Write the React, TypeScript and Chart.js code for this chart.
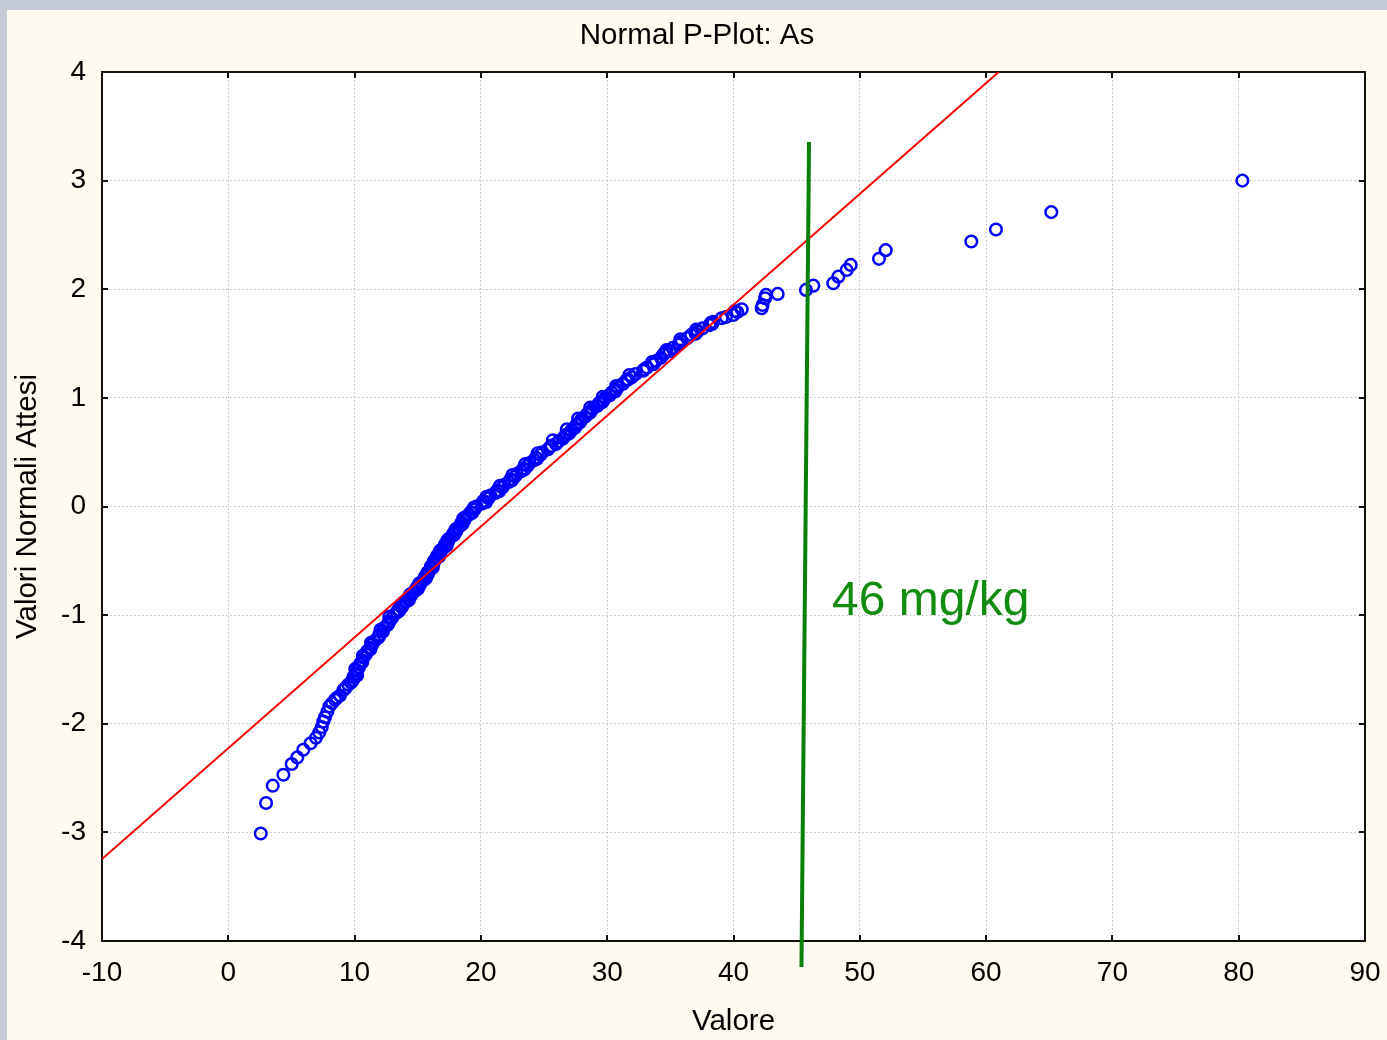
import React, { useEffect, useRef } from 'react';
import { Chart, registerables } from 'chart.js';

Chart.register(...registerables);

const FONT = '"Liberation Sans", Arial, Helvetica, sans-serif';

const chartTitle = 'Normal P-Plot: As';
const xAxisTitle = 'Valore';
const yAxisTitle = 'Valori Normali Attesi';

const xMin = -10;
const xMax = 90;
const xStep = 10;
const yMin = -4;
const yMax = 4;
const yStep = 1;

// [Valore, Valore normale atteso]
const observedPoints: [number, number][] = [
  [2.57, -3.01], [2.99, -2.73], [3.52, -2.57], [4.36, -2.47], [5.02, -2.37], [5.46, -2.31],
  [5.94, -2.24], [6.52, -2.18], [6.94, -2.13], [7.2, -2.08], [7.4, -2.03], [7.52, -1.98],
  [7.66, -1.94], [7.84, -1.89], [8.0, -1.84], [8.22, -1.81], [8.45, -1.78], [8.6, -1.76],
  [8.84, -1.74], [9.11, -1.69], [9.28, -1.67], [9.5, -1.64], [9.72, -1.62], [9.87, -1.6],
  [9.9, -1.57], [10.15, -1.54], [10.2, -1.51], [10.35, -1.48], [10.42, -1.45], [10.6, -1.42],
  [10.7, -1.39], [10.9, -1.36], [11.0, -1.33], [11.25, -1.3], [11.4, -1.27], [11.55, -1.24],
  [11.85, -1.21], [11.95, -1.18], [12.25, -1.15], [12.3, -1.12], [12.6, -1.09], [12.7, -1.06],
  [12.95, -1.03], [13.1, -1.0], [13.35, -0.975], [13.45, -0.95], [13.75, -0.925], [13.85, -0.9],
  [14.1, -0.875], [14.2, -0.85], [14.45, -0.825], [14.55, -0.8], [14.8, -0.775], [14.9, -0.75],
  [15.15, -0.725], [15.25, -0.7], [15.5, -0.675], [15.55, -0.65], [15.8, -0.625], [15.85, -0.6],
  [16.05, -0.575], [16.05, -0.55], [16.25, -0.525], [16.3, -0.5], [16.5, -0.475], [16.55, -0.45],
  [16.8, -0.425], [16.85, -0.4], [17.1, -0.375], [17.15, -0.35], [17.4, -0.325], [17.45, -0.3],
  [17.7, -0.275], [17.8, -0.25], [18.05, -0.225], [18.15, -0.2], [18.4, -0.175], [18.45, -0.15],
  [18.7, -0.125], [18.75, -0.1], [19.05, -0.075], [19.2, -0.05], [19.5, -0.025], [19.65, 0.0],
  [20.05, 0.025], [20.2, 0.05], [20.6, 0.075], [20.75, 0.1], [21.15, 0.125], [21.3, 0.15],
  [21.7, 0.175], [21.85, 0.2], [22.2, 0.225], [22.35, 0.25], [22.7, 0.275], [22.85, 0.3],
  [23.2, 0.325], [23.35, 0.35], [23.7, 0.375], [23.85, 0.4], [24.2, 0.425], [24.35, 0.45],
  [24.7, 0.475], [24.85, 0.5], [25.3, 0.525], [25.5, 0.55], [25.95, 0.575], [26.15, 0.6],
  [26.5, 0.625], [26.65, 0.65], [27.0, 0.675], [27.15, 0.7], [27.45, 0.725], [27.55, 0.75],
  [27.85, 0.775], [27.95, 0.8], [28.25, 0.825], [28.4, 0.85], [28.7, 0.875], [28.85, 0.9],
  [29.2, 0.925], [29.35, 0.95], [29.7, 0.975], [29.85, 1.0], [30.2, 1.025], [30.35, 1.05],
  [30.7, 1.075], [30.85, 1.1], [31.25, 1.13], [31.5, 1.16], [31.95, 1.19], [32.25, 1.22],
  [32.85, 1.25], [33.15, 1.28], [33.65, 1.31], [33.85, 1.34], [34.25, 1.37], [34.45, 1.4],
  [34.95, 1.43], [35.2, 1.46], [35.65, 1.49], [35.9, 1.52], [36.35, 1.55], [36.65, 1.58],
  [37.15, 1.61], [37.55, 1.64], [38.1, 1.67], [38.4, 1.7], [39.06, 1.733], [39.98, 1.763],
  [40.3, 1.79], [40.65, 1.816], [42.23, 1.825], [42.3, 1.855], [42.5, 1.917], [42.57, 1.948],
  [43.5, 1.957], [45.74, 1.994], [46.32, 2.033], [47.9, 2.055], [48.3, 2.116], [48.96, 2.178],
  [49.28, 2.224], [51.52, 2.28], [52.05, 2.36], [58.83, 2.44], [60.78, 2.55], [65.16, 2.71],
  [80.29, 3.0],
  [10.2, -1.555], [10.05, -1.495], [10.6, -1.435], [10.65, -1.375], [11.25, -1.315], [11.3, -1.255],
  [11.95, -1.195], [12.05, -1.135], [12.7, -1.075], [12.75, -1.015], [13.55, -0.96], [13.65, -0.91],
  [14.3, -0.86], [14.4, -0.81], [15.0, -0.76], [15.1, -0.71], [15.65, -0.66], [15.75, -0.61],
  [16.2, -0.56], [16.25, -0.51], [16.7, -0.46], [16.75, -0.41], [17.3, -0.36], [17.35, -0.31],
  [17.9, -0.26], [18.0, -0.21], [18.55, -0.16], [18.6, -0.11], [19.3, -0.06], [19.45, -0.01],
  [20.4, 0.04], [20.45, 0.09], [21.45, 0.14], [21.5, 0.19], [22.45, 0.24], [22.5, 0.29],
  [23.45, 0.34], [23.5, 0.39], [24.45, 0.44], [24.5, 0.49], [25.6, 0.56], [25.7, 0.61],
  [26.75, 0.66], [26.8, 0.71], [27.65, 0.76], [27.7, 0.81], [28.6, 0.86], [28.65, 0.91],
  [29.6, 0.96], [29.65, 1.01], [30.65, 1.06], [30.7, 1.11], [31.65, 1.17], [31.75, 1.21],
  [32.9, 1.26], [33.55, 1.33], [34.6, 1.42], [34.7, 1.44], [35.75, 1.5], [35.8, 1.54],
  [37.0, 1.59], [37.05, 1.63], [38.3, 1.68], [38.2, 1.69], [39.4, 1.745], [40.1, 1.8],
];

// normal reference line
const fitLineX = [-10, 61];
const fitLineY = [-3.245, 4.0];

// hand-drawn limit line (46 mg/kg)
const limitLineX = [45.98, 45.38];
const limitLineY = [3.356, -4.24];
const limitLabel = '46 mg/kg';
const limitLabelX = 47.8;
const limitLabelY = -1.0;

const decorPlugin = {
  id: 'decor',
  beforeDraw(chart: any) {
    const { ctx, chartArea } = chart;
    ctx.save();
    ctx.fillStyle = '#ffffff';
    ctx.fillRect(chartArea.left, chartArea.top, chartArea.right - chartArea.left, chartArea.bottom - chartArea.top);
    ctx.restore();
  },
  beforeDatasetsDraw(chart: any) {
    const { ctx, chartArea, scales } = chart;
    const { left, right, top, bottom } = chartArea;
    ctx.save();
    ctx.strokeStyle = '#111111';
    ctx.lineWidth = 2;
    ctx.strokeRect(left, top, right - left, bottom - top);
    const tl = 6;
    ctx.beginPath();
    scales.x.ticks.forEach((t: any) => {
      const px = Math.round(scales.x.getPixelForValue(t.value));
      ctx.moveTo(px, bottom);
      ctx.lineTo(px, bottom - tl);
      ctx.moveTo(px, top);
      ctx.lineTo(px, top + tl);
    });
    scales.y.ticks.forEach((t: any) => {
      const py = Math.round(scales.y.getPixelForValue(t.value));
      ctx.moveTo(left, py);
      ctx.lineTo(left + tl, py);
      ctx.moveTo(right, py);
      ctx.lineTo(right - tl, py);
    });
    ctx.stroke();
    ctx.restore();
  },
  afterDraw(chart: any) {
    const { ctx, scales } = chart;
    ctx.save();
    ctx.fillStyle = '#000000';
    ctx.font = `29.5px ${FONT}`;
    ctx.textAlign = 'center';
    ctx.textBaseline = 'middle';
    ctx.fillText(chartTitle, 697, 36);
    ctx.fillStyle = '#118c11';
    ctx.font = `48px ${FONT}`;
    ctx.textAlign = 'left';
    ctx.textBaseline = 'alphabetic';
    ctx.fillText(limitLabel, scales.x.getPixelForValue(limitLabelX), scales.y.getPixelForValue(limitLabelY));
    ctx.restore();
  },
};

function PPlot() {
  const ref = useRef<HTMLCanvasElement | null>(null);
  useEffect(() => {
    if (!ref.current) return;
    const chart = new Chart(ref.current, {
      type: 'scatter',
      data: {
        datasets: [
          {
            label: 'limite',
            data: limitLineX.map((x, i) => ({ x, y: limitLineY[i] })),
            showLine: true,
            borderColor: '#0a800a',
            borderWidth: 4,
            pointRadius: 0,
            clip: false as any,
            order: 0,
          },
          {
            label: 'retta',
            data: fitLineX.map((x, i) => ({ x, y: fitLineY[i] })),
            showLine: true,
            borderColor: '#ff0000',
            borderWidth: 2,
            pointRadius: 0,
            order: 1,
          },
          {
            label: 'As',
            data: observedPoints.map(([x, y]) => ({ x, y })),
            showLine: false,
            pointStyle: 'circle',
            pointRadius: 5.8,
            pointBorderWidth: 2.5,
            pointBorderColor: '#0000ff',
            pointBackgroundColor: 'rgba(0,0,0,0)',
            order: 2,
          },
        ],
      },
      options: {
        responsive: false,
        animation: false,
        devicePixelRatio: 1,
        layout: { padding: { top: 72, right: 22, left: 0, bottom: 0 } },
        plugins: {
          legend: { display: false },
          tooltip: { enabled: false },
          title: { display: false },
        },
        scales: {
          x: {
            type: 'linear',
            min: xMin,
            max: xMax,
            afterFit: (s: any) => {
              s.height = 99;
              s.paddingLeft = 0;
              s.paddingRight = 0;
            },
            ticks: {
              stepSize: xStep,
              autoSkip: false,
              maxRotation: 0,
              padding: 15,
              color: '#000000',
              font: { family: FONT, size: 28 },
            },
            grid: { color: '#bdbdbd', lineWidth: 1, drawTicks: false },
            border: { display: false, dash: [1.5, 2.5] },
            title: {
              display: true,
              text: xAxisTitle,
              color: '#000000',
              font: { family: FONT, size: 29.5 },
              padding: { top: 0, bottom: 0 },
            },
          },
          y: {
            type: 'linear',
            min: yMin,
            max: yMax,
            afterFit: (s: any) => {
              s.width = 102;
              s.paddingTop = 0;
              s.paddingBottom = 0;
            },
            ticks: {
              stepSize: yStep,
              padding: 16,
              color: '#000000',
              font: { family: FONT, size: 28 },
            },
            grid: { color: '#bdbdbd', lineWidth: 1, drawTicks: false },
            border: { display: false, dash: [1.5, 2.5] },
            title: {
              display: true,
              text: yAxisTitle,
              color: '#000000',
              font: { family: FONT, size: 29.5 },
              padding: { top: 10, bottom: 0 },
            },
          },
        },
      },
      plugins: [decorPlugin],
    });
    return () => chart.destroy();
  }, []);
  return <canvas ref={ref} width={1387} height={1040} style={{ position: 'absolute', left: 0, top: 0, display: 'block' }} />;
}

export default function App() {
  return (
    <div style={{ position: 'absolute', left: 0, top: 0, width: 1387, height: 1040, background: '#c4cbd6', overflow: 'hidden' }}>
      <div style={{ position: 'absolute', left: 7, top: 10, width: 1380, height: 1030, background: '#fffaf0' }} />
      <PPlot />
    </div>
  );
}
